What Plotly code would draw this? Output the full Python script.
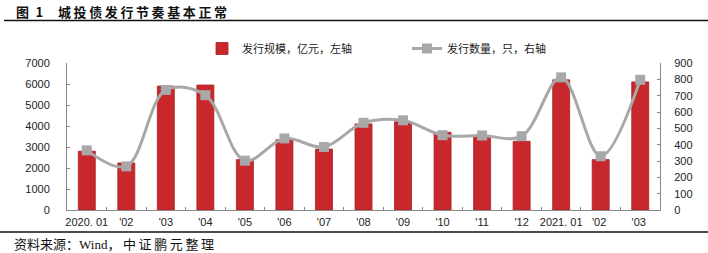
import plotly.graph_objects as go

categories = ["2020. 01", "'02", "'03", "'04", "'05", "'06", "'07", "'08",
              "'09", "'10", "'11", "'12", "2021. 01", "'02 ", "'03 "]
issue_amount = [2800, 2240, 5900, 5950, 2400, 3350, 2900, 4100,
                4200, 3700, 3500, 3270, 6200, 2400, 6100]
issue_count = [365, 267, 735, 703, 302, 438, 386, 534,
               549, 458, 456, 452, 812, 329, 797]
left_ticks = [0, 1000, 2000, 3000, 4000, 5000, 6000, 7000]
right_ticks = [0, 100, 200, 300, 400, 500, 600, 700, 800, 900]

W, H = 708, 253
L, R, T, B = 67, 48, 63, 43
PW, PH = W - L - R, H - T - B


def px(x):
    return (x - L) / PW


def py(y):
    return (H - B - y) / PH


CJK = "Noto Sans CJK SC"
LAT = "Liberation Sans, Arial"

fig = go.Figure()
fig.add_trace(go.Bar(
    x=categories, y=issue_amount, name="发行规模，亿元，左轴",
    marker=dict(color="#C8282C", line=dict(color="#A91F22", width=0.8)),
    yaxis="y",
))
fig.add_trace(go.Scatter(
    x=categories, y=issue_count, name="发行数量，只，右轴",
    mode="lines+markers",
    line=dict(color="#A8A8A8", width=3, shape="spline", smoothing=1.0),
    marker=dict(symbol="square", size=10, color="#A8A8A8"),
    yaxis="y2",
))

fig.update_layout(
    width=W, height=H,
    margin=dict(l=L, r=R, t=T, b=B, autoexpand=False),
    paper_bgcolor="white", plot_bgcolor="white",
    bargap=0.57,
    showlegend=True,
    legend=dict(orientation="h", x=px(202), y=py(34), xanchor="left", yanchor="top",
                font=dict(family=CJK, size=11, color="#222"),
                itemwidth=30, tracegroupgap=0, bgcolor="rgba(0,0,0,0)",
                entrywidth=160, entrywidthmode="pixels"),
    xaxis=dict(type="category", range=[-0.5, len(categories) - 0.5],
               showline=True, linecolor="#888", linewidth=1,
               ticks="inside", ticklen=3, tickcolor="#888", tickson="boundaries",
               tickangle=0, automargin=False, ticklabelstandoff=2,
               tickfont=dict(family=LAT, size=11, color="#222"),
               showgrid=False, zeroline=False),
    yaxis=dict(range=[0, 7000], tickvals=left_ticks, showline=True, linecolor="#888",
               ticks="inside", ticklen=3, tickcolor="#888", showgrid=False, zeroline=False,
               automargin=False,
               tickfont=dict(family=LAT, size=11, color="#222"), ticklabelstandoff=14),
    yaxis2=dict(range=[0, 900], tickvals=right_ticks, overlaying="y", side="right",
                showline=True, linecolor="#888", ticks="inside", ticklen=3, tickcolor="#888",
                showgrid=False, zeroline=False, automargin=False,
                tickfont=dict(family=LAT, size=11, color="#222"), ticklabelstandoff=11),
)

fig.add_annotation(text="<b>图\u20021</b>", xref="paper", yref="paper", x=px(14), y=py(11),
                   xanchor="left", yanchor="middle", showarrow=False,
                   font=dict(family=CJK, size=13, color="#111"))
fig.add_annotation(text="<b>" + "\u2009".join("城投债发行节奏基本正常") + "</b>",
                   xref="paper", yref="paper", x=px(56), y=py(11),
                   xanchor="left", yanchor="middle", showarrow=False,
                   font=dict(family=CJK, size=13, color="#111"))
fig.add_annotation(text="资料来源：<span style='font-family:Liberation Serif'>Wind</span>，\u2009"
                        + "\u2009".join("中证鹏元整理"),
                   xref="paper", yref="paper",
                   x=px(12), y=py(243), xanchor="left", yanchor="middle", showarrow=False,
                   font=dict(family=CJK, size=13, color="#111"))
fig.add_shape(type="line", xref="paper", yref="paper", x0=px(4), x1=px(708),
              y0=py(20.5), y1=py(20.5), line=dict(color="#111", width=1.5))
fig.add_shape(type="line", xref="paper", yref="paper", x0=px(0), x1=px(708),
              y0=py(232), y1=py(232), line=dict(color="#111", width=1.5))

fig.write_html("out.html")
